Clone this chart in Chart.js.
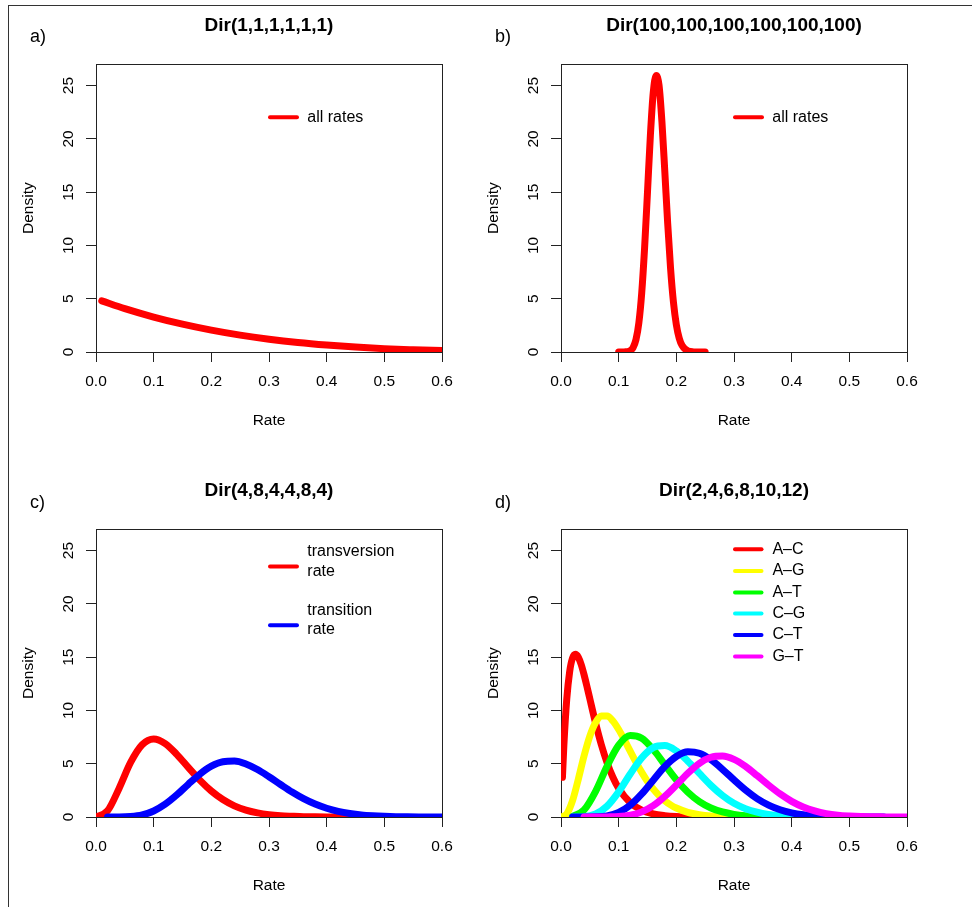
<!DOCTYPE html>
<html>
<head>
<meta charset="utf-8">
<script src="https://cdn.jsdelivr.net/npm/chart.js@4.4.1/dist/chart.umd.min.js"></script>
<style>
  body { margin: 0; width: 972px; height: 907px; overflow: hidden; background: #fff; position: relative;
         font-family: 'Liberation Sans', Arial, Helvetica, sans-serif; }
  #frame { position: absolute; left: 8px; top: 5px; width: 990px; height: 930px;
           border-top: 1.5px solid #333; border-left: 1.5px solid #333; }
  .panel { position: absolute; width: 465px; height: 465px; }
  .tag { position: absolute; font-size: 18px; line-height: 20px; color: #000; }
</style>
</head>
<body>
<div id="frame"></div>
<div class="panel" style="left:0;top:0"><canvas id="panelA" width="465" height="465"></canvas></div>
<div class="panel" style="left:465px;top:0"><canvas id="panelB" width="465" height="465"></canvas></div>
<div class="panel" style="left:0;top:465px"><canvas id="panelC" width="465" height="465"></canvas></div>
<div class="panel" style="left:465px;top:465px"><canvas id="panelD" width="465" height="465"></canvas></div>
<div class="tag" style="left:30px;top:26px">a)</div>
<div class="tag" style="left:495px;top:26px">b)</div>
<div class="tag" style="left:30px;top:492px">c)</div>
<div class="tag" style="left:495px;top:492px">d)</div>
<script>
const FONT = "'Liberation Sans', Arial, Helvetica, sans-serif";

const xTicks = [0, 0.1, 0.2, 0.3, 0.4, 0.5, 0.6];
const yTicks = [0, 5, 10, 15, 20, 25];

// a) Dir(1,1,1,1,1,1)
const rateA = [0.01, 0.05, 0.1, 0.15, 0.2, 0.25, 0.3, 0.35, 0.4, 0.45, 0.5, 0.55, 0.6];
const allRatesA = [4.80, 4.07, 3.28, 2.61, 2.05, 1.58, 1.20, 0.89, 0.65, 0.46, 0.31, 0.21, 0.13];

// b) Dir(100,...)
const rateB = [0.10, 0.11, 0.12, 0.125, 0.13, 0.135, 0.14, 0.145, 0.15, 0.155, 0.16, 0.165, 0.17,
               0.175, 0.18, 0.185, 0.19, 0.195, 0.2, 0.205, 0.21, 0.22, 0.23, 0.24, 0.25];
const allRatesB = [0, 0.01, 0.13, 0.42, 1.16, 2.74, 5.57, 9.81, 15.03, 20.33, 24.36, 25.95, 25.03,
                   21.63, 16.95, 12.07, 7.85, 4.67, 2.56, 1.29, 0.60, 0.10, 0.01, 0, 0];

// shared grid for c) and d)
const rateGrid = [0, 0.02, 0.04, 0.06, 0.08, 0.1, 0.12, 0.14, 0.16, 0.18, 0.2, 0.22, 0.24, 0.26, 0.28, 0.3,
                  0.32, 0.34, 0.36, 0.38, 0.4, 0.42, 0.44, 0.46, 0.48, 0.5, 0.52, 0.54, 0.56, 0.58, 0.6];

// c) Dir(4,8,4,4,8,4)
const transversion = [0, 0.58, 2.68, 5.12, 6.78, 7.32, 6.89, 5.88, 4.65, 3.46, 2.44, 1.64, 1.05, 0.65, 0.39, 0.22,
                      0.12, 0.07, 0.03, 0.02, 0.01, 0, 0, 0, null, null, null, null, null, null, null];
const transition = [null, 0, 0, 0.04, 0.19, 0.56, 1.20, 2.07, 3.07, 4.02, 4.77, 5.19, 5.25, 4.98, 4.46, 3.78,
                    3.05, 2.34, 1.72, 1.21, 0.82, 0.53, 0.33, 0.19, 0.11, 0.06, 0.03, 0.02, 0.01, 0, 0];

// d) Dir(2,4,6,8,10,12)
const rateAC = [0.0025, 0.005, 0.01, 0.015, 0.02, 0.025, 0.03, 0.035, 0.04, 0.045, 0.05, 0.06, 0.07,
                0.08, 0.09, 0.1, 0.12, 0.14, 0.16, 0.18, 0.2, 0.22, 0.24, 0.26, 0.28, 0.3];
const rAC = [3.72, 6.74, 11.08, 13.64, 14.92, 15.27, 15.00, 14.31, 13.35, 12.25, 11.09, 8.81, 6.77,
             5.08, 3.73, 2.69, 1.35, 0.64, 0.29, 0.13, 0.05, 0.02, 0.01, 0, 0, 0];
const rateAG = [0, 0.01, 0.02, 0.03, 0.04, 0.05, 0.06, 0.07, 0.08, 0.09, 0.1, 0.11, 0.12, 0.13, 0.14,
                0.15, 0.16, 0.17, 0.18, 0.19, 0.2, 0.22, 0.24, 0.26, 0.28, 0.3, 0.32, 0.34, 0.36];
const rAG = [0, 0.28, 1.53, 3.54, 5.73, 7.59, 8.87, 9.48, 9.48, 9.01, 8.21, 7.23, 6.18, 5.15, 4.19,
             3.34, 2.62, 2.02, 1.53, 1.14, 0.84, 0.44, 0.22, 0.10, 0.05, 0.02, 0.01, 0, 0];
const rAT = [null, 0.04, 0.66, 2.41, 4.78, 6.75, 7.65, 7.40, 6.33, 4.91, 3.50, 2.33, 1.45, 0.85, 0.47, 0.25,
             0.12, 0.06, 0.03, 0.01, 0, 0, 0, 0, null, null, null, null, null, null, null];
const rCG = [null, 0, 0.03, 0.28, 1.02, 2.36, 4.03, 5.55, 6.51, 6.70, 6.20, 5.24, 4.09, 2.97, 2.02, 1.29,
             0.78, 0.45, 0.24, 0.12, 0.06, 0.03, 0.01, 0, 0, 0, null, null, null, null, null];
const rCT = [null, 0, 0, 0.02, 0.11, 0.43, 1.10, 2.16, 3.46, 4.74, 5.68, 6.12, 5.98, 5.38, 4.48, 3.48,
             2.53, 1.73, 1.12, 0.68, 0.39, 0.21, 0.11, 0.05, 0.02, 0.01, 0, 0, 0, null, null];
const rGT = [null, null, 0, 0, 0.01, 0.04, 0.17, 0.48, 1.06, 1.93, 3.00, 4.11, 5.04, 5.61, 5.73, 5.41,
             4.75, 3.89, 2.99, 2.16, 1.47, 0.94, 0.57, 0.32, 0.17, 0.09, 0.04, 0.02, 0.01, 0, 0];

Chart.defaults.font.family = FONT;
Chart.defaults.color = '#000';

function series(xs, ys) {
  return xs.map((x, i) => ({ x: x, y: ys[i] }));
}

// box around plot region, rotated y labels and R-style legend
const rPlot = {
  id: 'rPlot',
  beforeDatasetsDraw(chart) {
    const { ctx, chartArea: a } = chart;
    ctx.save();
    ctx.strokeStyle = '#222';
    ctx.lineWidth = 1;
    ctx.strokeRect(Math.round(a.left) + 0.5, Math.round(a.top) + 0.5,
                   Math.round(a.right - a.left), Math.round(a.bottom - a.top));
    ctx.restore();
  },
  afterDraw(chart, args, opts) {
    const { ctx, chartArea: a } = chart;
    const y = chart.scales.y;
    ctx.save();
    ctx.fillStyle = '#000';
    ctx.font = '15.5px ' + FONT;
    ctx.textAlign = 'center';
    ctx.textBaseline = 'middle';
    yTicks.forEach(v => {
      ctx.save();
      ctx.translate(a.left - 27.7, y.getPixelForValue(v));
      ctx.rotate(-Math.PI / 2);
      ctx.fillText(String(v), 0, 0);
      ctx.restore();
    });
    const lg = opts.legend;
    ctx.font = '16px ' + FONT;
    ctx.textAlign = 'left';
    ctx.lineCap = 'round';
    ctx.lineWidth = 4;
    lg.items.forEach(it => {
      ctx.strokeStyle = it.color;
      ctx.beginPath();
      ctx.moveTo(a.left + lg.x1, a.top + it.y);
      ctx.lineTo(a.left + lg.x2, a.top + it.y);
      ctx.stroke();
      it.text.forEach((t, k) => ctx.fillText(t, a.left + lg.tx, a.top + it.ty[k]));
    });
    ctx.restore();
  }
};

function makePanel(id, title, sets, legend) {
  return new Chart(document.getElementById(id), {
    type: 'line',
    data: {
      datasets: sets.map((d, i) => ({
        label: d.label,
        data: series(d.x, d.y),
        borderColor: d.color,
        borderWidth: 7,
        pointRadius: 0,
        fill: false,
        borderCapStyle: 'round',
        borderJoinStyle: 'round',
        cubicInterpolationMode: 'monotone',
        clip: 0,
        order: sets.length - i
      }))
    },
    options: {
      responsive: false,
      animation: false,
      events: [],
      layout: { padding: { left: 0, top: 0, right: 23, bottom: 0 } },
      plugins: {
        legend: { display: false },
        tooltip: { enabled: false },
        title: {
          display: true, text: title, fullSize: false, color: '#000',
          font: { size: 19, weight: 'bold' },
          padding: { top: 14.6, bottom: 26.9 }
        },
        rPlot: { legend: legend }
      },
      scales: {
        x: {
          type: 'linear', min: 0, max: 0.6,
          afterBuildTicks: s => { s.ticks = xTicks.map(v => ({ value: v })); },
          afterFit: s => { s.height = 113; },
          ticks: { font: { size: 15.5 }, padding: 10.7, maxRotation: 0, autoSkip: false,
                   callback: v => v.toFixed(1) },
          grid: { drawOnChartArea: false, tickLength: 10, color: '#222' },
          border: { display: false },
          title: { display: true, text: 'Rate', font: { size: 15.5 }, padding: { top: 0, bottom: 35 } }
        },
        y: {
          type: 'linear', min: 0, max: 27,
          afterBuildTicks: s => { s.ticks = yTicks.map(v => ({ value: v })); },
          afterFit: s => { s.width = 96; },
          ticks: { display: false },
          grid: { drawOnChartArea: false, tickLength: 10, color: '#222' },
          border: { display: false },
          title: { display: true, text: 'Density', font: { size: 15.5 }, padding: { top: 19.7, bottom: 0 } }
        }
      }
    },
    plugins: [rPlot]
  });
}

makePanel('panelA', 'Dir(1,1,1,1,1,1)',
  [{ label: 'all rates', x: rateA, y: allRatesA, color: '#ff0000' }],
  { x1: 174, x2: 201, tx: 211.3, items: [{ color: '#ff0000', y: 53, text: ['all rates'], ty: [53] }] });

makePanel('panelB', 'Dir(100,100,100,100,100,100)',
  [{ label: 'all rates', x: rateB, y: allRatesB, color: '#ff0000' }],
  { x1: 174, x2: 201, tx: 211.3, items: [{ color: '#ff0000', y: 53, text: ['all rates'], ty: [53] }] });

makePanel('panelC', 'Dir(4,8,4,4,8,4)',
  [{ label: 'transversion rate', x: rateGrid, y: transversion, color: '#ff0000' },
   { label: 'transition rate', x: rateGrid, y: transition, color: '#0000ff' }],
  { x1: 174, x2: 201, tx: 211.3, items: [
    { color: '#ff0000', y: 37.3, text: ['transversion', 'rate'], ty: [22.7, 42.7] },
    { color: '#0000ff', y: 96, text: ['transition', 'rate'], ty: [81.7, 100.7] }] });

makePanel('panelD', 'Dir(2,4,6,8,10,12)',
  [{ label: 'A–C', x: rateAC, y: rAC, color: '#ff0000' },
   { label: 'A–G', x: rateAG, y: rAG, color: '#ffff00' },
   { label: 'A–T', x: rateGrid, y: rAT, color: '#00ff00' },
   { label: 'C–G', x: rateGrid, y: rCG, color: '#00ffff' },
   { label: 'C–T', x: rateGrid, y: rCT, color: '#0000ff' },
   { label: 'G–T', x: rateGrid, y: rGT, color: '#ff00ff' }],
  { x1: 174, x2: 200.5, tx: 211.4, items: [
    { color: '#ff0000', y: 20, text: ['A–C'], ty: [20] },
    { color: '#ffff00', y: 41.7, text: ['A–G'], ty: [41.7] },
    { color: '#00ff00', y: 63.3, text: ['A–T'], ty: [63.3] },
    { color: '#00ffff', y: 84.3, text: ['C–G'], ty: [84.3] },
    { color: '#0000ff', y: 105.7, text: ['C–T'], ty: [105.7] },
    { color: '#ff00ff', y: 127.3, text: ['G–T'], ty: [127.3] }] });
</script>
</body>
</html>
